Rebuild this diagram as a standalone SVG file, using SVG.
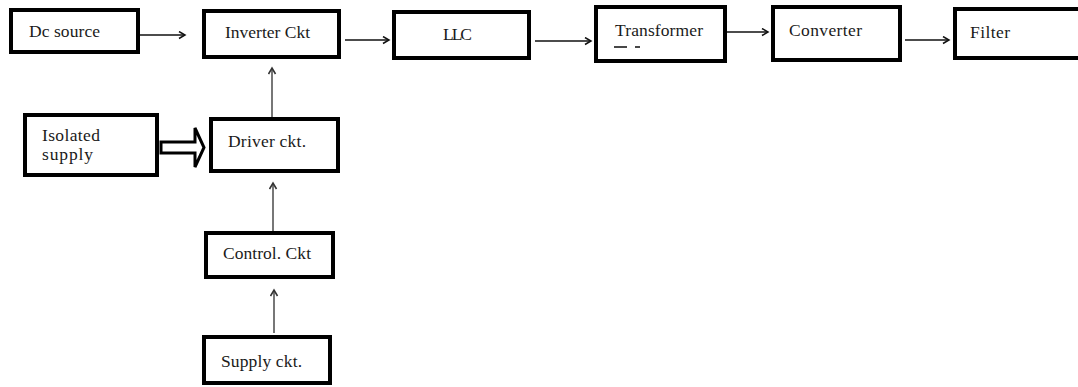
<svg xmlns="http://www.w3.org/2000/svg" width="1078" height="387" viewBox="0 0 1078 387">
<style>
.box{fill:#fff;stroke:#000;stroke-width:4}
.lbl{font-family:"Liberation Serif","Times New Roman",serif;font-size:17.5px;fill:#1a1a1a}
.arr{stroke:#111;stroke-width:1.4;fill:none}
.varr{stroke:#555;stroke-width:1.6;fill:none}
.frag{stroke:#1a1a1a;stroke-width:1.6}
</style>
<defs>
<marker id="ah" markerUnits="userSpaceOnUse" markerWidth="10" markerHeight="10" refX="7" refY="4" orient="auto">
<path d="M1,0.5 L7,4 L1,7.5" fill="none" stroke="#111" stroke-width="1.5"/>
</marker>
<marker id="ahg" markerUnits="userSpaceOnUse" markerWidth="10" markerHeight="10" refX="7" refY="4" orient="auto">
<path d="M1,0.5 L7,4 L1,7.5" fill="none" stroke="#333" stroke-width="1.6"/>
</marker>
</defs>
<rect width="1078" height="387" fill="#fff"/>
<g id="connectors">
<line class="arr" x1="140" y1="35" x2="185" y2="35" marker-end="url(#ah)"/>
<line class="arr" x1="345" y1="40" x2="389" y2="40" marker-end="url(#ah)"/>
<line class="arr" x1="535" y1="41" x2="591" y2="41" marker-end="url(#ah)"/>
<line class="arr" x1="727" y1="32" x2="768" y2="32" marker-end="url(#ah)"/>
<line class="arr" x1="905" y1="40" x2="949" y2="40" marker-end="url(#ah)"/>
<line class="varr" x1="272" y1="117" x2="272" y2="68" marker-end="url(#ahg)"/>
<line class="varr" x1="273" y1="231" x2="273" y2="183" marker-end="url(#ahg)"/>
<line class="varr" x1="274" y1="333" x2="274" y2="290" marker-end="url(#ahg)"/>
<polygon points="161,142 195,142 195,128 204,147.5 195,167 195,153 161,153" fill="#fff" stroke="#000" stroke-width="3" stroke-linejoin="miter"/>
</g>
<g id="dc-source">
<rect class="box" x="11" y="10" width="127" height="42"/>
<text class="lbl" x="29" y="37" textLength="71">Dc source</text>
</g>
<g id="inverter">
<rect class="box" x="204" y="11" width="135" height="46"/>
<text class="lbl" x="225" y="38" textLength="85">Inverter Ckt</text>
</g>
<g id="llc">
<rect class="box" x="394" y="12" width="135" height="46"/>
<text class="lbl" x="443" y="40" textLength="29">LLC</text>
</g>
<g id="transformer">
<rect class="box" x="596" y="7" width="129" height="54"/>
<text class="lbl" x="615" y="36" textLength="88">Transformer</text>
<line class="frag" x1="614" y1="47" x2="627" y2="47"/>
<line class="frag" x1="635" y1="47" x2="640" y2="47"/>
</g>
<g id="converter">
<rect class="box" x="773" y="7" width="127" height="53"/>
<text class="lbl" x="789" y="36" textLength="73">Converter</text>
</g>
<g id="filter">
<rect class="box" x="955" y="9" width="130" height="49"/>
<text class="lbl" x="970" y="38" textLength="40">Filter</text>
</g>
<g id="isolated-supply">
<rect class="box" x="25" y="115" width="132" height="60"/>
<text class="lbl" x="42" y="141" textLength="58">Isolated</text>
<text class="lbl" x="42" y="160" textLength="51">supply</text>
</g>
<g id="driver">
<rect class="box" x="211" y="119" width="127" height="52"/>
<text class="lbl" x="228" y="147" textLength="78">Driver ckt.</text>
</g>
<g id="control">
<rect class="box" x="206" y="233" width="127" height="44"/>
<text class="lbl" x="223" y="259" textLength="88">Control. Ckt</text>
</g>
<g id="supply">
<rect class="box" x="204" y="337" width="126" height="46"/>
<text class="lbl" x="221" y="367" textLength="81">Supply ckt.</text>
</g>
</svg>
